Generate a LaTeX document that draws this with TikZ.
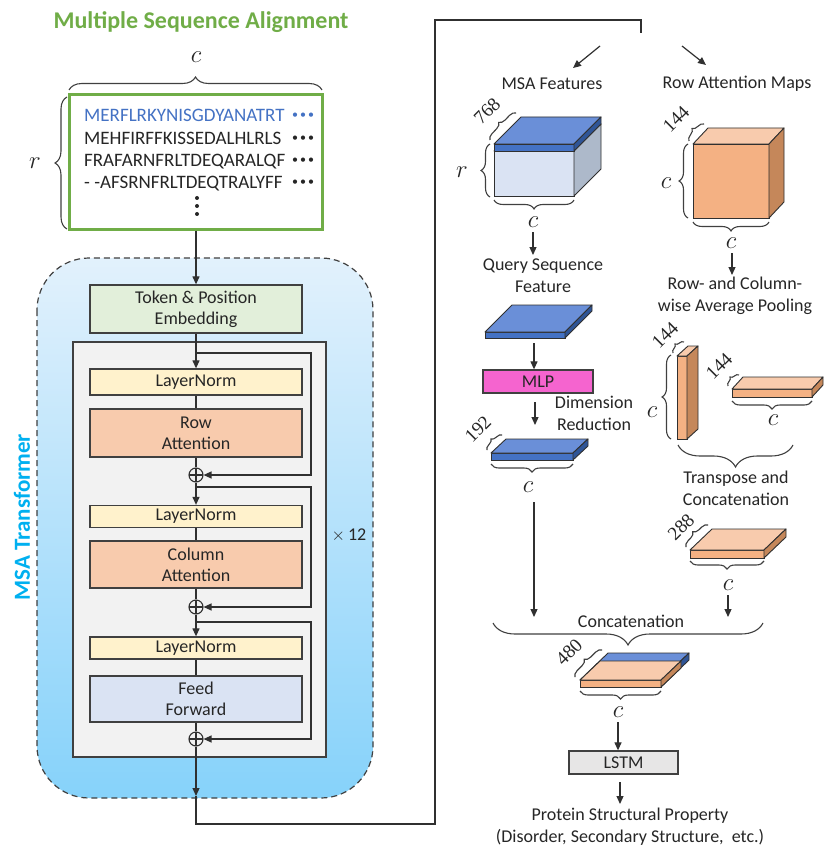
\documentclass[tikz,border=0pt]{standalone}
\usepackage{fontspec}
\setmainfont{Carlito}
\newfontfamily\numfont{Liberation Serif}
\usetikzlibrary{arrows.meta,decorations.pathreplacing,calc}
\definecolor{msagreen}{HTML}{70AD47}
\definecolor{seqblue}{HTML}{4472C4}
\definecolor{regtop}{HTML}{E2F1FC}
\definecolor{regbot}{HTML}{86D2FA}
\definecolor{msablue}{HTML}{00B0F0}
\definecolor{tokgreen}{HTML}{E2EFDA}
\definecolor{graybg}{HTML}{F2F2F2}
\definecolor{lnyel}{HTML}{FFF2CC}
\definecolor{attn}{HTML}{F8CBAD}
\definecolor{ffblue}{HTML}{DAE3F3}
\definecolor{lstmgray}{HTML}{E7E6E6}
\definecolor{mlppink}{HTML}{F564CF}
\definecolor{boxline}{HTML}{404040}
\definecolor{txt}{HTML}{262626}
\definecolor{linec}{HTML}{303030}
\definecolor{btop}{HTML}{6A8FD8}
\definecolor{bfront}{HTML}{4472C4}
\definecolor{bside}{HTML}{2F5597}
\definecolor{lbfront}{HTML}{DAE3F3}
\definecolor{lbside}{HTML}{ADB9CA}
\definecolor{otop}{HTML}{F8CBAD}
\definecolor{ofront}{HTML}{F4B183}
\definecolor{oside}{HTML}{C5875A}
\newcommand\cub[8]{%
  \filldraw[fill=#6,draw=linec,line width=0.9pt] (#1) rectangle ++(#2,#3);
  \filldraw[fill=#7,draw=linec,line width=0.9pt,line join=round] (#1) -- ++(#4,-#5) -- ++(#2,0) -- ++(-#4,#5) -- cycle;
  \filldraw[fill=#8,draw=linec,line width=0.9pt,line join=round] (#1) ++(#2,0) -- ++(#4,-#5) -- ++(0,#3) -- ++(-#4,#5) -- cycle;}
\begin{document}
\begin{tikzpicture}[x=1pt,y=-1pt,
  lbl/.style={font=\fontsize{18}{22}\selectfont, align=center, inner sep=0pt, text=txt},
  box/.style={draw=boxline, line width=1.3pt, minimum width=212pt, inner sep=0pt, align=center, font=\fontsize{18}{21}\selectfont, text=txt},
  seq/.style={anchor=base west, inner sep=0pt, font=\fontsize{19}{19}\selectfont, text=txt},
  cl/.style={inner sep=0pt, font=\fontsize{25}{25}\selectfont, text=txt},
  num/.style={inner sep=0pt, font=\numfont\fontsize{19}{19}\selectfont, text=txt, rotate=45},
  ln/.style={draw=linec, line width=1.2pt},
  arr/.style={draw=linec, line width=1.2pt, -{Triangle[length=8pt,width=7pt]}},
  brc/.style={draw=boxline, line width=1.1pt, decorate, decoration={brace, amplitude=#1}},
  oplus/.style={circle, draw=linec, line width=1.1pt, minimum size=14pt, inner sep=0pt,
    path picture={\draw[line width=1.1pt,linec] (path picture bounding box.north) -- (path picture bounding box.south) (path picture bounding box.west) -- (path picture bounding box.east);}}
]
\useasboundingbox (0,0) rectangle (823,850);
\fill[white] (0,0) rectangle (823,850);

% ---------------- left part ----------------
\node[inner sep=0pt, font=\bfseries\fontsize{24}{24}\selectfont, text=msagreen] (title) at (201,22) {Multiple Sequence Alignment};
\node[cl] (ctop) at (196,57) {$c$};
\draw[brc=13pt] (69,90) -- (322,90);
\node[draw=msagreen, fill=white, line width=3pt, minimum width=253pt, minimum height=134pt, inner sep=0pt] (msabox) at (195.5,162) {};
\draw[brc=12pt] (67,229) -- (67,97);
\node[cl] (rleft) at (35,163) {$r$};

\node[seq, text=seqblue] (s1) at (84,122) {MERFLRKYNISGDYANATRT};
\node[seq] (s2) at (84,145) {MEHFIRFFKISSEDALHLRLS};
\node[seq] (s3) at (84,167) {FRAFARNFRLTDEQARALQF};
\node[seq] (s4) at (84,189) {- -AFSRNFRLTDEQTRALYFF};
\node[seq, text=seqblue, font=\fontsize{12}{12}\selectfont] (d1) at (292,119) {•\,•\,•};
\node[seq, font=\fontsize{12}{12}\selectfont] (d2) at (292,142) {•\,•\,•};
\node[seq, font=\fontsize{12}{12}\selectfont] (d3) at (292,164) {•\,•\,•};
\node[seq, font=\fontsize{12}{12}\selectfont] (d4) at (292,186) {•\,•\,•};
\fill[txt] (197,198) circle (2pt) (197,206) circle (2pt) (197,214) circle (2pt);

% transformer region
\draw[dashed, dash pattern=on 6pt off 4pt, draw=boxline, line width=1.2pt, rounded corners=52pt, top color=regtop, bottom color=regbot] (37,258) rectangle (373,798);
\node[inner sep=0pt, rotate=90, font=\bfseries\fontsize{23}{23}\selectfont, text=msablue] (msat) at (22,517) {MSA Transformer};
\draw[fill=graybg, draw=boxline, line width=1.3pt] (73,342) rectangle (326,757);
\node[lbl] (x12) at (349,535) {$\times$\,12};

\node[box, fill=tokgreen, minimum height=48pt] (tok) at (196,309) {Token \& Position\\Embedding};
\node[box, fill=lnyel, minimum height=26pt] (ln1) at (196,382) {LayerNorm};
\node[box, fill=attn, minimum height=48pt] (row) at (196,433) {Row\\Attention};
\node[oplus] (p1) at (196,475) {};
\node[box, fill=lnyel, minimum height=22pt] (ln2) at (196,516.5) {LayerNorm};
\node[box, fill=attn, minimum height=47pt] (col) at (196,564.5) {Column\\Attention};
\node[oplus] (p2) at (196,607) {};
\node[box, fill=lnyel, minimum height=22pt] (ln3) at (196,648) {LayerNorm};
\node[box, fill=ffblue, minimum height=46pt] (ff) at (196,699) {Feed\\Forward};
\node[oplus] (p3) at (196,739) {};

\draw[arr] (msabox.south -| tok.north) -- (tok.north);
\draw[arr] (tok) -- (ln1);
\draw[ln] (ln1) -- (row);
\draw[ln] (row) -- (p1);
\draw[arr] (p1) -- (ln2);
\draw[ln] (ln2) -- (col);
\draw[ln] (col) -- (p2);
\draw[arr] (p2) -- (ln3);
\draw[ln] (ln3) -- (ff);
\draw[ln] (ff) -- (p3);
\coordinate (out) at (196,796);
\draw[arr] (p3) -- (out);
\coordinate (branch) at (641,33);
\draw[ln] (out) -- ++(0,28) -- ++(239,0) -- ++(0,-804) -- ++(206,0) -- (branch);

\coordinate (k1) at (196,353);
\coordinate (k2) at (196,487);
\coordinate (k3) at (196,622);
\draw[arr] (k1) -- ++(115,0) |- (p1.east);
\draw[arr] (k2) -- ++(115,0) |- (p2.east);
\draw[arr] (k3) -- ++(115,0) |- (p3.east);

% ---------------- right part ----------------
\coordinate (b1s) at (600,46); \coordinate (b1e) at (573,68);
\coordinate (b2s) at (682,46); \coordinate (b2e) at (706,65);
\draw[arr] (b1s) -- (b1e);
\draw[arr] (b2s) -- (b2e);
\node[lbl] (msaf) at (552,84) {MSA Features};
\node[lbl] (ram) at (737,84) {Row Attention Maps};

% MSA feature cube
\cub{494,151}{80}{45}{27}{27}{lbfront}{btop}{lbside}
\cub{494,144}{80}{7}{27}{27}{bfront}{btop}{bside}
\draw[brc=6pt] (490,140) -- (516,113);
\node[num] (n768) at (487,111) {768};
\draw[brc=9pt] (490,197) -- (490,144);
\node[cl] (rmsa) at (462,172) {$r$};
\draw[brc=9pt] (574,200) -- (494,200);
\node[cl] (c1) at (533,222) {$c$};
\coordinate (a1s) at (533,232); \coordinate (a1e) at (533,255);
\draw[arr] (a1s) -- (a1e);
\node[lbl] (qsf) at (543,276) {Query Sequence\\Feature};

% query slab
\cub{485,332}{80}{6}{27}{27}{bfront}{btop}{bside}
\node[box, fill=mlppink, minimum width=110pt, minimum height=23pt] (mlp) at (538,381.5) {MLP};
\coordinate (a2s) at (534,343);
\draw[arr] (a2s) -- (a2s |- mlp.north);
\coordinate (a3s) at (535,402); \coordinate (a3e) at (535,425);
\draw[arr] (a3s) -- (a3e);
\node[lbl] (dimr) at (594,413) {Dimension\\Reduction};

% 192 slab
\cub{491,453}{82}{7}{15}{14}{bfront}{btop}{bside}
\draw[brc=5pt] (487,450) -- (502,435);
\node[num] (n192) at (478,429) {192};
\draw[brc=8pt] (573,464) -- (491,464);
\node[cl] (c2) at (528,487) {$c$};
\coordinate (a4s) at (534,502); \coordinate (a4e) at (534,617);
\draw[arr] (a4s) -- (a4e);

% row attention cube
\cub{693,144}{76}{74}{15}{16}{ofront}{otop}{oside}
\draw[brc=6pt] (689,141) -- (704,124);
\node[num] (n144a) at (676,119) {144};
\draw[brc=9pt] (688,218) -- (688,144);
\node[cl] (c3) at (666,183) {$c$};
\draw[brc=9pt] (769,222) -- (693,222);
\node[cl] (c4) at (731,243) {$c$};
\coordinate (a5s) at (732,253); \coordinate (a5e) at (732,275);
\draw[arr] (a5s) -- (a5e);
\node[lbl] (rcp) at (735,296) {Row- and Column-\\wise Average Pooling};

% vertical bar
\cub{677,356}{10}{83}{11}{10}{ofront}{otop}{oside}
\draw[brc=5pt] (673,353) -- (684,342);
\node[num] (n144b) at (665,335) {144};
\draw[brc=9pt] (671,439) -- (671,355);
\node[cl] (c5) at (652,412) {$c$};

% horizontal slab
\cub{732,389}{80}{8}{11}{12}{ofront}{otop}{oside}
\draw[brc=5pt] (728,386) -- (739,375);
\node[num] (n144c) at (719,366) {144};
\draw[brc=8pt] (812,401) -- (732,401);
\node[cl] (c6) at (773,420) {$c$};

\draw[brc=22pt] (793,445) -- (678,445);
\node[lbl] (tc) at (736,488) {Transpose and\\Concatenation};

% 288 slab
\cub{690,550}{74}{8}{22}{21}{ofront}{otop}{oside}
\draw[brc=6pt] (686,547) -- (708,525);
\node[num] (n288) at (681,527) {288};
\draw[brc=8pt] (764,561) -- (690,561);
\node[cl] (c7) at (728,585) {$c$};
\coordinate (a6s) at (728,595); \coordinate (a6e) at (728,617);
\draw[arr] (a6s) -- (a6e);

% concatenation
\node[lbl] (concat) at (631,621) {Concatenation};
\draw[brc=22pt] (763,623) -- (493,623);

% 480 slab
\cub{580,680}{81}{7}{28}{27}{bfront}{btop}{bside}
\cub{580,680}{81}{7}{20}{19}{ofront}{otop}{oside}
\draw[brc=6pt] (575,677) -- (602,650);
\node[num] (n480) at (569,652) {480};
\draw[brc=8pt] (661,691) -- (580,691);
\node[cl] (c8) at (618,712) {$c$};

\node[box, fill=lstmgray, minimum width=109pt, minimum height=23pt] (lstm) at (623.5,762.5) {LSTM};
\coordinate (a7s) at (618,722);
\draw[arr] (a7s) -- (a7s |- lstm.north);
\coordinate (a8s) at (620,782); \coordinate (a8e) at (620,804);
\draw[arr] (a8s) -- (a8e);
\node[lbl] (psp) at (630,827) {Protein Structural Property\\(Disorder, Secondary Structure,\ \ etc.)};
\end{tikzpicture}
\end{document}
